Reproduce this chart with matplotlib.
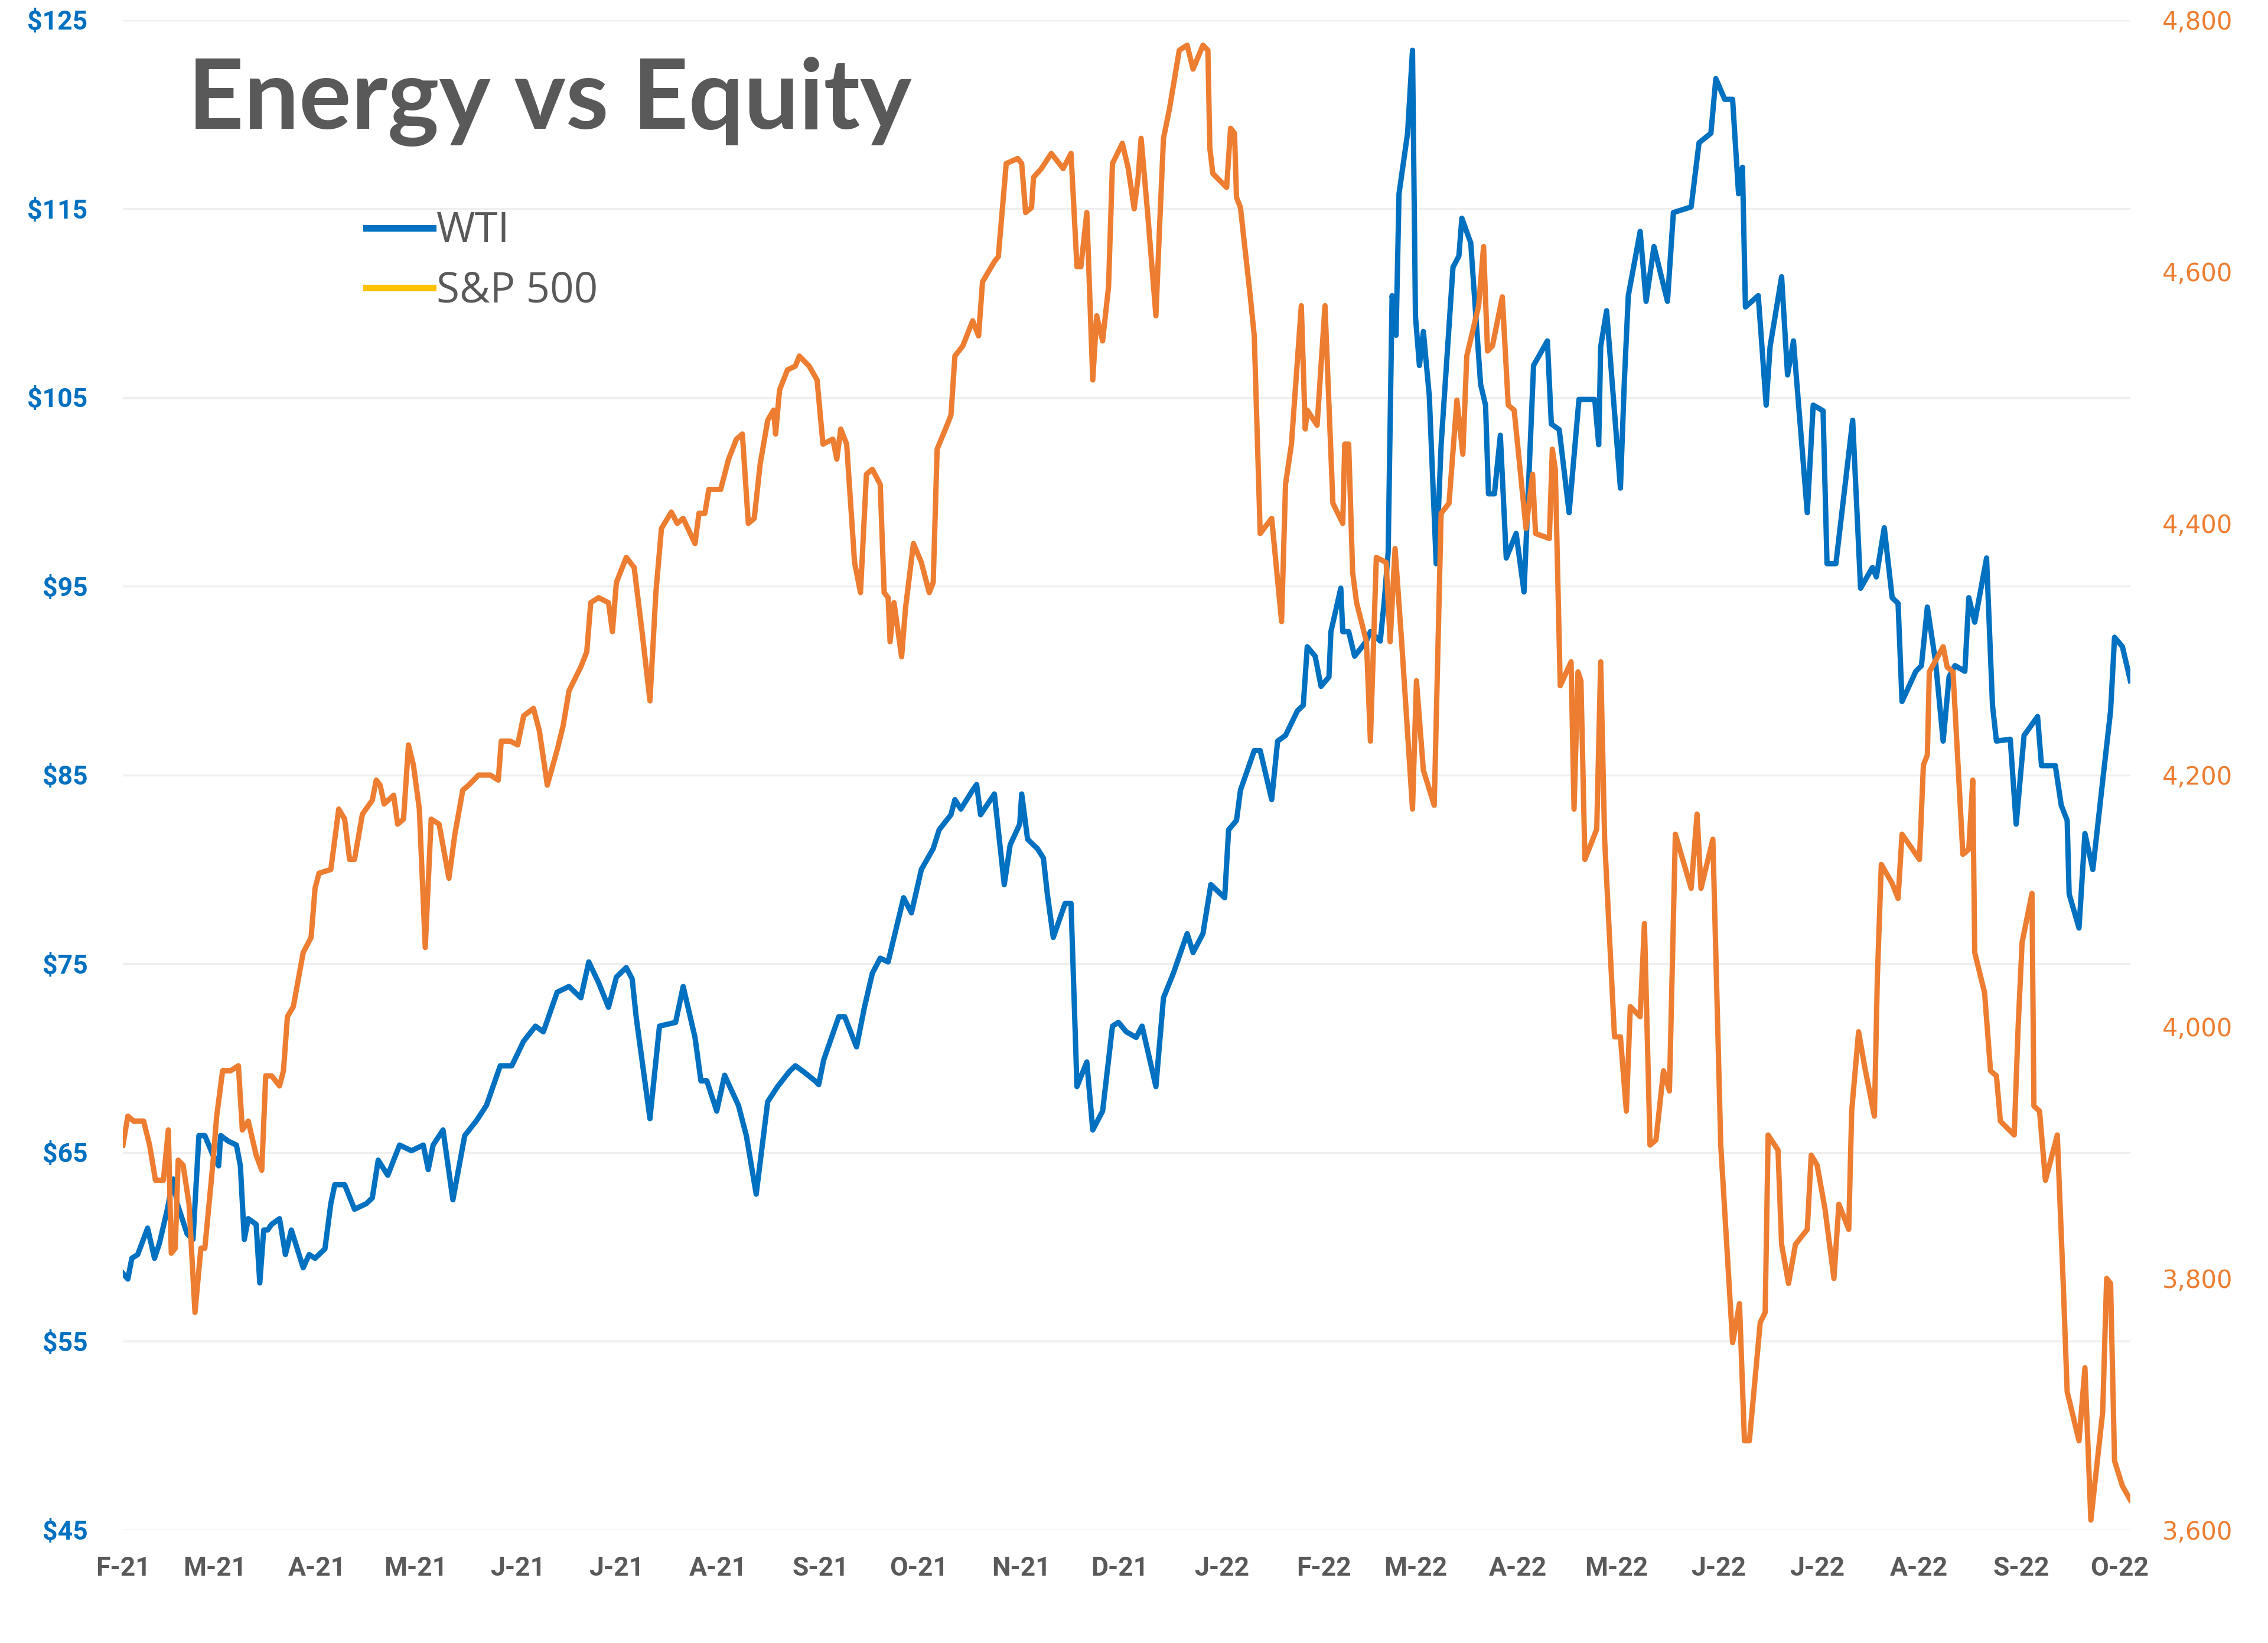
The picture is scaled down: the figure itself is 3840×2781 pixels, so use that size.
import matplotlib
matplotlib.use('Agg')
import matplotlib.pyplot as plt
from matplotlib.lines import Line2D
import pandas as pd

# days counted from 2021-02-01
wti_day = [0, 1.5, 2.7, 4.5, 7.5, 9.6, 11.1, 13.5, 15.3, 16.5, 19.5, 21.3, 23.1, 24.9, 27.3, 29.1, 29.7,
           32.1, 34.5, 35.7, 36.9, 38.1, 40.5, 41.6, 42.8, 44.0, 45.2, 47.6, 49.4, 51.2, 54.8, 56.6,
           58.4, 61.4, 63.2, 64.4, 67.4, 70.4, 74.0, 75.8, 77.6, 80.5, 84.1, 87.7, 91.3, 92.8, 94.3,
           97.3, 100.3, 103.9, 107.5, 110.5, 114.7, 118.2, 121.8, 125.4, 127.8, 132.0, 135.6, 139.2,
           141.6, 144.6, 147.6, 150.0, 153.0, 154.8, 156.0, 160.2, 163.1, 168.0, 170.3, 173.9, 175.7,
           177.5, 180.5, 182.9, 187.1, 189.5, 192.5, 196.0, 199.0, 202.6, 204.4, 206.8, 210.4, 211.5,
           213.0, 217.6, 219.4, 223.0, 225.4, 227.8, 230.2, 232.6, 237.3, 239.7, 242.7, 246.3, 248.1,
           251.7, 252.9, 254.7, 258.3, 259.5, 260.7, 264.9, 267.9, 269.7, 272.6, 273.2, 275.0, 278.0,
           279.8, 281.0, 282.8, 286.4, 288.2, 290.0, 293.0, 294.8, 297.8, 300.8, 302.6, 305.0, 308.0,
           309.8, 314.0, 316.3, 319.3, 323.5, 325.3, 328.3, 330.7, 334.9, 336.1, 338.5, 339.7, 343.9,
           345.7, 349.2, 351.0, 353.4, 357.0, 358.8, 360.0, 362.4, 364.2, 366.6, 367.2, 370.2, 370.8,
           372.6, 374.4, 378.0, 379.2, 382.2, 383.4, 384.6, 385.8, 387.0, 387.9, 390.5, 392.0, 392.9,
           394.1, 395.3, 397.1, 399.2, 400.7, 404.3, 406.1, 407.0, 409.7, 412.7, 414.2, 415.1, 416.9,
           418.7, 420.5, 423.5, 425.9, 428.8, 433.0, 434.2, 436.6, 439.6, 442.6, 447.4, 448.6, 449.2,
           451.0, 455.2, 456.4, 457.6, 461.2, 463.0, 465.4, 469.5, 471.3, 476.7, 479.1, 482.7, 484.2,
           486.9, 489.3, 491.1, 492.3, 493.2, 497.1, 499.5, 500.7, 504.2, 506.0, 507.8, 512.0, 513.8,
           516.8, 518.0, 520.7, 525.8, 528.2, 531.8, 533.0, 535.4, 537.8, 539.6, 540.8, 545.0, 546.7,
           548.5, 551.0, 553.3, 555.1, 556.9, 559.9, 561.1, 562.9, 566.5, 568.3, 569.5, 573.7, 575.5,
           577.9, 582.0, 583.2, 587.4, 589.2, 591.0, 591.6, 594.6, 596.4, 598.8, 601.8, 604.2, 605.4,
           607.8, 610.2]
wti = [58.6, 58.3, 59.4, 59.6, 61.0, 59.4, 60.2, 62.0, 63.6, 62.3, 60.7, 60.4, 65.9, 65.9, 64.9, 64.3, 65.9,
       65.6, 65.4, 64.3, 60.4, 61.5, 61.2, 58.1, 60.9, 60.9, 61.2, 61.5, 59.6, 60.9, 58.9, 59.6,
       59.4, 59.9, 62.3, 63.3, 63.3, 62.0, 62.3, 62.6, 64.6, 63.8, 65.4, 65.1, 65.4, 64.1, 65.4,
       66.2, 62.5, 65.9, 66.7, 67.5, 69.6, 69.6, 70.9, 71.7, 71.4, 73.5, 73.8, 73.2,
       75.1, 74.0, 72.7, 74.3, 74.8, 74.2, 72.2, 66.8, 71.7, 71.9, 73.8, 71.1, 68.8,
       68.8, 67.2, 69.1, 67.5, 65.9, 62.8, 67.7, 68.5, 69.3, 69.6, 69.3, 68.8, 68.6,
       69.9, 72.2, 72.2, 70.6, 72.7, 74.5, 75.3, 75.1, 78.5, 77.7, 80.0, 81.1, 82.1,
       82.9, 83.7, 83.2, 84.2, 84.5, 82.9, 84.0, 79.2, 81.3, 82.4, 84.0, 81.6, 81.1,
       80.6, 78.7, 76.4, 78.2, 78.2, 68.5, 69.8, 66.2, 67.2, 71.7, 71.9, 71.4, 71.1,
       71.7, 68.5, 73.2, 74.5, 76.6, 75.6, 76.6, 79.2, 78.5, 82.1, 82.6, 84.2, 86.3,
       86.3, 83.7, 86.8, 87.1, 88.4, 88.7, 91.8, 91.3, 89.7, 90.2, 92.6, 94.9, 92.6,
       92.6, 91.3, 92.1, 92.6, 92.1, 94.2, 96.8, 110.4, 108.3, 115.8, 119.0, 123.4, 109.3,
       106.7, 108.5, 105.1, 96.2, 102.5, 111.9, 112.5, 114.5, 113.2, 105.7, 104.6, 99.9, 99.9,
       103.0, 96.5, 97.8, 94.7, 106.7, 108.0, 103.6, 103.3, 98.9, 104.9, 104.9, 102.5, 107.7,
       109.6, 100.2, 105.9, 110.4, 113.8, 110.1, 113.0, 110.1, 114.8, 115.1, 118.5, 119.0, 121.9,
       120.8, 120.8, 115.8, 117.2, 109.8, 110.4, 104.6, 107.7, 111.4, 106.2, 108.0, 98.9, 104.6,
       104.3, 96.2, 96.2, 103.8, 94.9, 96.0, 95.5, 98.1, 94.4, 94.1, 88.9, 90.5, 90.8,
       93.9, 91.0, 86.8, 90.2, 90.8, 90.5, 94.4, 93.1, 96.5, 88.7, 86.8, 86.9, 82.4,
       87.1, 88.1, 85.5, 85.5, 83.4, 82.6, 78.7, 76.9, 81.9, 80.0, 84.7, 88.4, 92.3,
       91.8, 90.0]

spx_day = [0, 1.5, 3.3, 6.3, 8.1, 9.9, 12.3, 13.8, 14.7, 15.9, 16.8, 18.3, 20.1, 21.9, 23.7, 24.9, 27.3,
           28.5, 30.3, 32.7, 35.1, 36.3, 38.1, 40.5, 42.2, 43.4, 45.2, 47.6, 48.8, 50.0, 51.8, 54.8,
           57.2, 58.4, 59.6, 63.2, 65.6, 67.4, 68.9, 70.4, 72.8, 75.8, 77.0, 78.2, 79.4, 82.3, 83.5,
           85.3, 86.8, 88.3, 90.1, 91.9, 93.7, 96.1, 99.1, 100.9, 103.3, 105.1, 108.1, 111.7, 114.1,
           115.0, 117.7, 120.0, 121.8, 124.8, 126.6, 129.0, 132.0, 133.8, 135.6, 139.2, 141.0, 142.2,
           144.6, 147.6, 148.8, 150.0, 153.0, 155.4, 157.8, 160.2, 162.0, 163.7, 166.7, 168.5, 170.3,
           173.9, 175.1, 176.9, 178.1, 181.7, 184.1, 186.5, 188.3, 190.1, 191.9, 193.7, 196.0, 197.8,
           198.4, 199.6, 202.0, 204.4, 205.6, 208.6, 211.0, 212.8, 215.8, 217.0, 218.2, 220.0, 222.4,
           224.2, 226.0, 227.8, 230.2, 231.4, 232.6, 233.2, 234.4, 236.7, 237.9, 240.3, 242.7, 245.1,
           246.3, 247.5, 250.5, 251.7, 252.9, 255.3, 258.3, 260.1, 261.3, 264.9, 266.1, 268.5, 272.0,
           273.2, 274.4, 276.2, 276.8, 279.2, 282.2, 285.8, 288.2, 290.0, 291.2, 293.0, 294.8, 296.0,
           297.8, 299.6, 300.8, 303.8, 305.6, 307.4, 308.6, 309.5, 311.6, 314.0, 315.1, 316.3, 318.1,
           321.1, 323.5, 325.3, 328.3, 329.8, 330.4, 331.3, 335.5, 336.7, 337.9, 338.5, 339.7, 342.7,
           343.9, 345.7, 349.2, 352.2, 353.4, 355.2, 358.2, 359.4, 360.0, 363.0, 365.4, 367.8, 370.8,
           371.4, 372.6, 373.8, 375.0, 378.0, 379.2, 381.0, 384.0, 385.2, 386.7, 388.7, 392.0, 393.2,
           395.3, 398.6, 400.7, 403.1, 405.5, 407.3, 408.5, 412.1, 413.6, 414.8, 416.3, 419.3, 421.1,
           422.9, 426.5, 428.5, 429.4, 433.6, 434.5, 435.4, 436.9, 440.2, 441.1, 442.3, 443.2, 444.4,
           448.0, 449.2, 450.4, 453.4, 455.2, 457.0, 458.2, 461.2, 462.5, 464.2, 466.0, 468.3, 470.1,
           471.9, 476.7, 478.5, 479.7, 483.3, 485.7, 489.3, 491.4, 492.9, 494.4, 497.7, 499.2, 500.1,
           503.1, 504.2, 506.3, 508.4, 512.0, 513.2, 515.0, 517.4, 520.1, 521.6, 524.6, 525.5, 527.6,
           529.4, 532.4, 533.3, 534.5, 537.8, 539.6, 540.8, 546.1, 547.3, 548.5, 549.1, 553.3, 554.5,
           556.3, 559.3, 561.1, 562.3, 562.9, 565.9, 567.7, 569.5, 570.7, 574.9, 576.1, 577.3, 580.3,
           580.9, 582.6, 584.4, 588.0, 589.8, 591.0, 594.6, 596.4, 598.2, 601.8, 603.0, 604.2, 605.4,
           607.8, 610.2]
spx = [3906, 3929, 3925, 3925, 3906, 3878, 3878, 3918, 3820, 3824, 3894, 3890, 3859, 3773, 3824, 3824, 3890,
       3929, 3965, 3965, 3969, 3918, 3925, 3898, 3886, 3961, 3961, 3953, 3965, 4008, 4016, 4059,
       4071, 4110, 4122, 4125, 4173, 4165, 4133, 4133, 4169, 4180, 4196, 4192, 4177, 4184, 4161,
       4165, 4224, 4208, 4173, 4063, 4165, 4161, 4118, 4153, 4188, 4192, 4200, 4200, 4196,
       4227, 4227, 4224, 4247, 4253, 4235, 4192, 4220, 4239, 4267, 4286, 4298, 4337,
       4341, 4337, 4314, 4353, 4373, 4365, 4314, 4259, 4345, 4396, 4409, 4400, 4404,
       4384, 4408, 4408, 4427, 4427, 4451, 4467, 4471, 4400, 4404, 4447, 4482, 4490,
       4471, 4506, 4522, 4525, 4533, 4525, 4514, 4463, 4467, 4451, 4475, 4463, 4369,
       4345, 4439, 4443, 4431, 4345, 4341, 4306, 4337, 4294, 4333, 4384, 4369, 4345,
       4353, 4459, 4478, 4486, 4533, 4541, 4561, 4549, 4592, 4608, 4612, 4686, 4690,
       4686, 4647, 4651, 4675, 4682, 4694, 4682, 4694, 4604, 4604, 4647, 4514, 4565,
       4545, 4588, 4686, 4702, 4682, 4650, 4675, 4706, 4643, 4565, 4635, 4706, 4729,
       4776, 4780, 4761, 4780, 4776, 4698, 4678, 4667, 4714, 4710, 4659, 4651, 4580,
       4549, 4392, 4404, 4322, 4431, 4463, 4573, 4475, 4490, 4478, 4573, 4416, 4400,
       4463, 4463, 4361, 4337, 4306, 4227, 4373, 4369, 4306, 4380, 4306, 4173, 4275,
       4204, 4176, 4408, 4416, 4498, 4455, 4533, 4573, 4620, 4537, 4541, 4580, 4494,
       4490, 4396, 4439, 4392, 4388, 4459, 4443, 4271, 4290, 4173, 4282, 4275, 4133,
       4157, 4290, 4149, 3992, 3992, 3933, 4016, 4008, 4082, 3906, 3910, 3965, 3949,
       4153, 4110, 4169, 4110, 4149, 3906, 3749, 3780, 3671, 3671, 3765, 3773, 3914,
       3902, 3827, 3796, 3827, 3839, 3898, 3890, 3855, 3800, 3859, 3839, 3933, 3996,
       3969, 3929, 4039, 4129, 4114, 4102, 4153, 4133, 4208, 4216, 4282, 4302, 4286,
       4282, 4137, 4141, 4196, 4059, 4027, 3965, 3961, 3925, 3914, 4000, 4067, 4106,
       3937, 3933, 3878, 3914, 3796, 3710, 3671, 3729, 3608, 3694, 3800, 3796, 3655,
       3635, 3624]

tick_labels = ['F-21', 'M-21', 'A-21', 'M-21', 'J-21', 'J-21', 'A-21', 'S-21', 'O-21', 'N-21', 'D-21',
               'J-22', 'F-22', 'M-22', 'A-22', 'M-22', 'J-22', 'J-22', 'A-22', 'S-22', 'O-22']
wti_ticks = [45, 55, 65, 75, 85, 95, 105, 115, 125]
spx_ticks = [3600, 3800, 4000, 4200, 4400, 4600, 4800]

start = pd.Timestamp('2021-02-01')
wti_dates = start + pd.to_timedelta(wti_day, unit='D')
spx_dates = start + pd.to_timedelta(spx_day, unit='D')
months = pd.date_range('2021-02-01', periods=len(tick_labels), freq='MS')

blue = '#0070C0'
orange = '#ED7D31'
gray = '#595959'

fig = plt.figure(figsize=(38.4, 27.81), dpi=100)
ax = fig.add_axes([0.0542, 0.0687, 0.8851, 0.9191])
ax2 = ax.twinx()

ax.plot(wti_dates, wti, color=blue, lw=6.5, solid_joinstyle='round')
ax2.plot(spx_dates, spx, color=orange, lw=6.5, solid_joinstyle='round')

ax.set_xlim(wti_dates[0], wti_dates[-1])
ax.set_ylim(45, 125)
ax2.set_ylim(3600, 4800)

ax.set_yticks(wti_ticks)
ax.set_yticklabels(['$%d' % v for v in wti_ticks], color=blue, fontsize=32,
                   fontweight='bold', family='Roboto')
ax2.set_yticks(spx_ticks)
ax2.set_yticklabels(['{:,}'.format(v) for v in spx_ticks], color=orange, fontsize=30,
                    family='DejaVu Sans')
ax.set_xticks(months)
ax.set_xticklabels(tick_labels, color=gray, fontsize=32, fontweight='bold', family='Roboto')

ax.tick_params(axis='y', length=0, pad=43)
ax2.tick_params(axis='y', length=0, pad=39)
ax.tick_params(axis='x', length=0, pad=32)

ax.grid(axis='y', color='#EFEFEF', lw=2.5)
ax.set_axisbelow(True)
for a in (ax, ax2):
    for s in a.spines.values():
        s.set_visible(False)

fig.text(0.0828, 0.9216, 'Energy vs Equity', fontsize=119, fontweight='bold',
         family='Lato', color=gray, va='baseline')

handles = [Line2D([], [], color=blue, lw=8), Line2D([], [], color='#FFC000', lw=8)]
fig.legend(handles, ['WTI', 'S&P 500'], loc='upper left', bbox_to_anchor=(0.1615, 0.872),
           frameon=False, borderpad=0, borderaxespad=0, handlelength=1.6, handletextpad=0.08,
           labelspacing=0.42, prop={'family': 'Open Sans', 'size': 51}, labelcolor=gray)

fig.savefig('out.png', dpi=100, facecolor='white')
